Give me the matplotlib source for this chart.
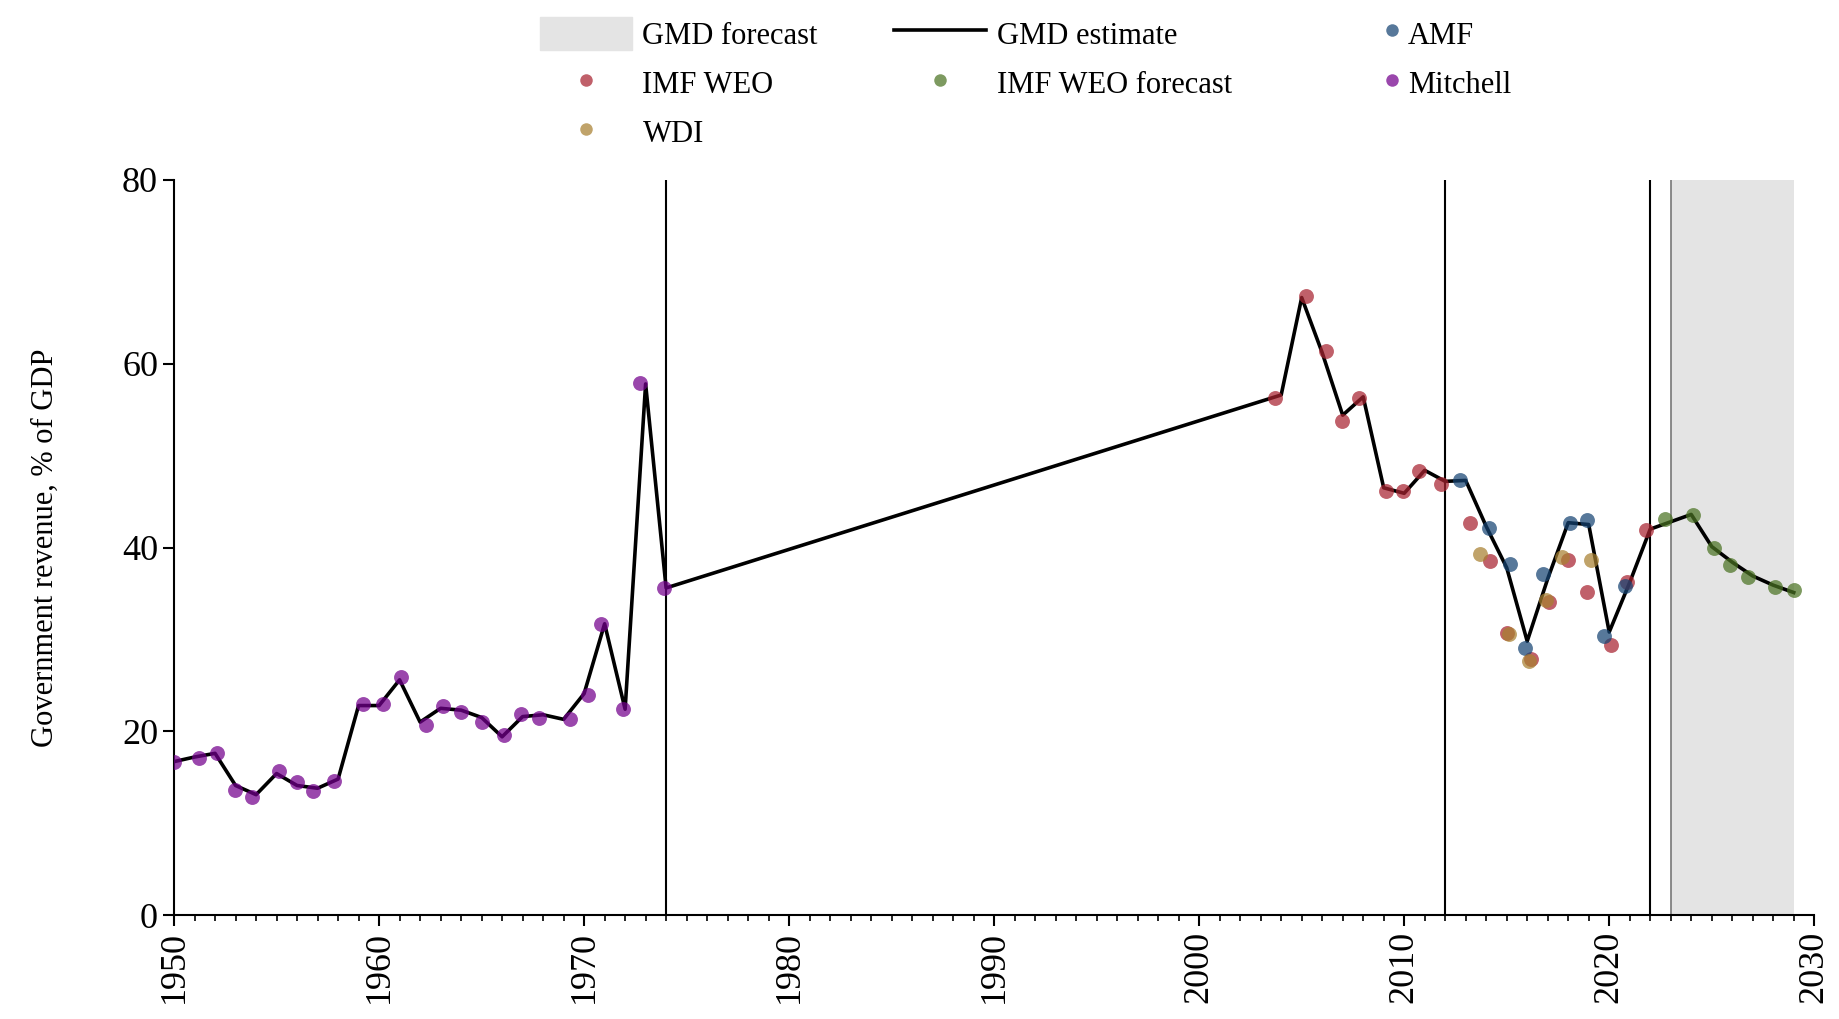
import matplotlib
matplotlib.use("Agg")
import matplotlib.pyplot as plt
from matplotlib.patches import Patch
from matplotlib.lines import Line2D

plt.rcParams['font.family'] = ['Liberation Serif', 'DejaVu Serif']

# GMD estimate line
gmd_years = list(range(1950, 1975)) + list(range(2004, 2030))
gmd_vals = [16.7, 17.2, 17.6, 14.1, 13.1, 15.4, 14.1, 13.8, 14.8, 22.8,
            22.8, 25.6, 21.0, 22.5, 22.3, 21.5, 19.4, 21.6, 21.8, 21.3,
            24.1, 31.7, 22.4, 57.8, 35.6,
            56.6, 67.2, 61.2, 54.4, 56.4, 46.5, 45.9, 48.4, 47.2, 47.3,
            42.3, 37.8, 29.8, 36.6, 42.7, 42.5, 30.8, 36.2, 42.0, 42.8,
            43.6, 40.1, 38.4, 36.9, 35.9, 35.1]

# source points (x positions, slightly jittered)
mitchell_x = [1950.0, 1951.2, 1952.1, 1952.96, 1953.8, 1955.1, 1956.0, 1956.8,
              1957.8, 1959.2, 1960.2, 1961.07, 1962.3, 1963.1, 1964.0, 1965.0,
              1966.1, 1966.9, 1967.8, 1969.3, 1970.2, 1970.8, 1971.9, 1972.75, 1973.9]
mitchell_y = [16.7, 17.1, 17.6, 13.6, 12.8, 15.65, 14.5, 13.55, 14.6, 22.97,
              22.97, 25.9, 20.7, 22.7, 22.1, 21.05, 19.6, 21.9, 21.5, 21.3,
              24.0, 31.7, 22.4, 57.9, 35.6]

weo_x = [2003.71, 2005.19, 2006.18, 2006.96, 2007.8, 2009.1, 2009.96, 2010.7,
         2011.8, 2013.2, 2014.2, 2015.0, 2016.2, 2017.05, 2018.0, 2018.9,
         2020.1, 2020.87, 2021.77]
weo_y = [56.3, 67.4, 61.4, 53.8, 56.3, 46.2, 46.1, 48.3, 46.9, 42.7, 38.5,
         30.7, 27.9, 34.1, 38.6, 35.2, 29.4, 36.3, 41.9]

amf_x = [2012.7, 2014.16, 2015.14, 2015.9, 2016.76, 2018.08, 2018.94, 2019.74, 2020.76]
amf_y = [47.3, 42.1, 38.2, 29.1, 37.1, 42.7, 43.0, 30.4, 35.8]

wdi_x = [2013.7, 2015.1, 2016.1, 2016.9, 2017.7, 2019.09]
wdi_y = [39.3, 30.6, 27.7, 34.3, 39.0, 38.6]

fc_x = [2022.7, 2024.1, 2025.1, 2025.9, 2026.76, 2028.1, 2029.0]
fc_y = [43.1, 43.5, 40.0, 38.1, 36.8, 35.7, 35.4]

c_amf = '#164473'
c_weo = '#a82330'
c_wdi = '#a88030'
c_fc = '#4b7323'
c_mit = '#73008d'
al = 0.72

fig = plt.figure(figsize=(18.4, 10.19), dpi=100)
ax = fig.add_axes([0.0946, 0.102, 0.8914, 0.7214])

ax.axvspan(2023, 2029, color='#e4e4e4', zorder=0, lw=0)
ax.axvline(2023, color='#777777', lw=1.2, zorder=1)
for yr in [1974, 2012, 2022]:
    ax.axvline(yr, color='black', lw=1.5, zorder=1)

ax.plot(gmd_years, gmd_vals, color='black', lw=2.6, zorder=3)

ms = 115
ax.scatter(mitchell_x, mitchell_y, s=ms, color=c_mit, alpha=al, lw=0, zorder=4)
ax.scatter(weo_x, weo_y, s=ms, color=c_weo, alpha=al, lw=0, zorder=4)
ax.scatter(amf_x, amf_y, s=ms, color=c_amf, alpha=al, lw=0, zorder=4)
ax.scatter(wdi_x, wdi_y, s=ms, color=c_wdi, alpha=al, lw=0, zorder=4)
ax.scatter(fc_x, fc_y, s=ms, color=c_fc, alpha=al, lw=0, zorder=4)

ax.set_xlim(1950, 2030)
ax.set_ylim(0, 80)
ax.set_xticks(range(1950, 2031, 10))
ax.set_xticks(range(1950, 2031, 1), minor=True)
ax.set_yticks([0, 20, 40, 60, 80])
ax.tick_params(axis='both', which='major', labelsize=26, length=8, width=1.5)
ax.tick_params(axis='x', which='minor', length=4, width=1.2)
ax.tick_params(axis='x', labelrotation=90)
for s in ['top', 'right']:
    ax.spines[s].set_visible(False)
for s in ['left', 'bottom']:
    ax.spines[s].set_linewidth(1.5)
ax.set_ylabel('Government revenue, % of GDP', fontsize=22, labelpad=45)


def dot(c):
    return Line2D([], [], marker='o', ls='', color=c, alpha=al, markersize=9, mec='none')


# first two legend columns
handles_a = [Patch(color='#e4e4e4'), dot(c_weo), dot(c_wdi),
             Line2D([], [], color='black', lw=2.6), dot(c_fc)]
labels_a = ['GMD forecast', 'IMF WEO', 'WDI', 'GMD estimate', 'IMF WEO forecast']
fig.legend(handles_a, labels_a, loc='upper left', bbox_to_anchor=(0.2935, 0.9833),
           ncol=2, frameon=False, fontsize=22, handlelength=3.0,
           handleheight=1.3, handletextpad=0.35, columnspacing=2.5,
           labelspacing=0.5, borderpad=0, borderaxespad=0)

# third column, with tight handles
fig.legend([dot(c_amf), dot(c_mit)], ['AMF', 'Mitchell'], loc='upper left',
           bbox_to_anchor=(0.7514, 0.9833), ncol=1, frameon=False, fontsize=22,
           handlelength=0.6, handleheight=1.3, handletextpad=0.23,
           labelspacing=0.5, borderpad=0, borderaxespad=0)

fig.savefig('out.png', dpi=100)
